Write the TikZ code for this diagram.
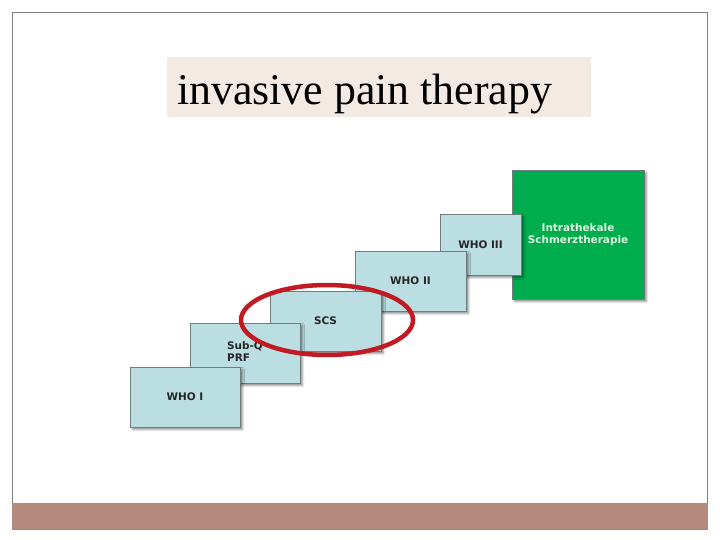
\documentclass[tikz,border=0pt]{standalone}
\usepackage{fontspec}
\setmainfont{Liberation Serif}
\newfontfamily\stagefont{DejaVu Sans}
\usetikzlibrary{shadows.blur}

\definecolor{stageblue}{HTML}{BADEE2}
\definecolor{stageedge}{HTML}{6F7C7E}
\definecolor{itgreen}{HTML}{00AD4E}
\definecolor{ittext}{HTML}{DDF5DD}
\definecolor{ringred}{HTML}{C21A22}
\definecolor{titlebg}{HTML}{F2EAE3}
\definecolor{footbar}{HTML}{B48A7F}
\definecolor{framegray}{HTML}{808080}

\begin{document}
\begin{tikzpicture}[%
        x=1bp, y=-1bp,
        stage/.style={rectangle, draw=stageedge, line width=0.8bp,
            fill=stageblue, inner sep=0pt, align=center,
            minimum width=110bp, minimum height=60bp,
            font=\stagefont\bfseries\fontsize{10.5}{12}\selectfont,
            text=black!85,
            blur shadow={shadow xshift=2.5bp, shadow yshift=-2.5bp,
                shadow blur steps=4, shadow blur radius=2bp, shadow opacity=45}}
        ]
        \useasboundingbox (0,0) rectangle (720,540);

        % slide frame and footer bar
        \draw[framegray, line width=1bp] (12.5,503) -- (12.5,12.5) -- (707.5,12.5) -- (707.5,503);
        \fill[footbar] (12,503) rectangle (708,529);
        \draw[black!45, line width=0.6bp] (12,529) -- (708,529);

        % title
        \fill[titlebg] (167,57) rectangle (591,117);
        \node[anchor=base west, inner sep=0pt, font=\fontsize{44}{48}\selectfont] (title) at (177,105) {invasive pain therapy};

        % stages, back to front
        \node[stage, fill=itgreen, text=ittext, minimum width=132bp, minimum height=129bp] (ith) at (578,234.5) {Intrathekale\\Schmerztherapie};
        \node[stage, minimum width=81bp, minimum height=61bp] (who3) at (480.5,244.5) {WHO III};
        \node[stage, minimum width=111bp] (who2) at (410.5,281) {WHO II};
        \node[stage, minimum width=111bp] (scs) at (325.5,321) {SCS};
        \node[stage, align=left, text depth=3bp] (subq) at (245,353) {Sub-Q\\PRF};
        \node[stage] (who1) at (185,397) {WHO I};

        % marker round SCS
        \draw[ringred, line width=4.5bp] (scs.center) ++(1.5,-1) ellipse [x radius=86, y radius=35];
    \end{tikzpicture}
\end{document}
